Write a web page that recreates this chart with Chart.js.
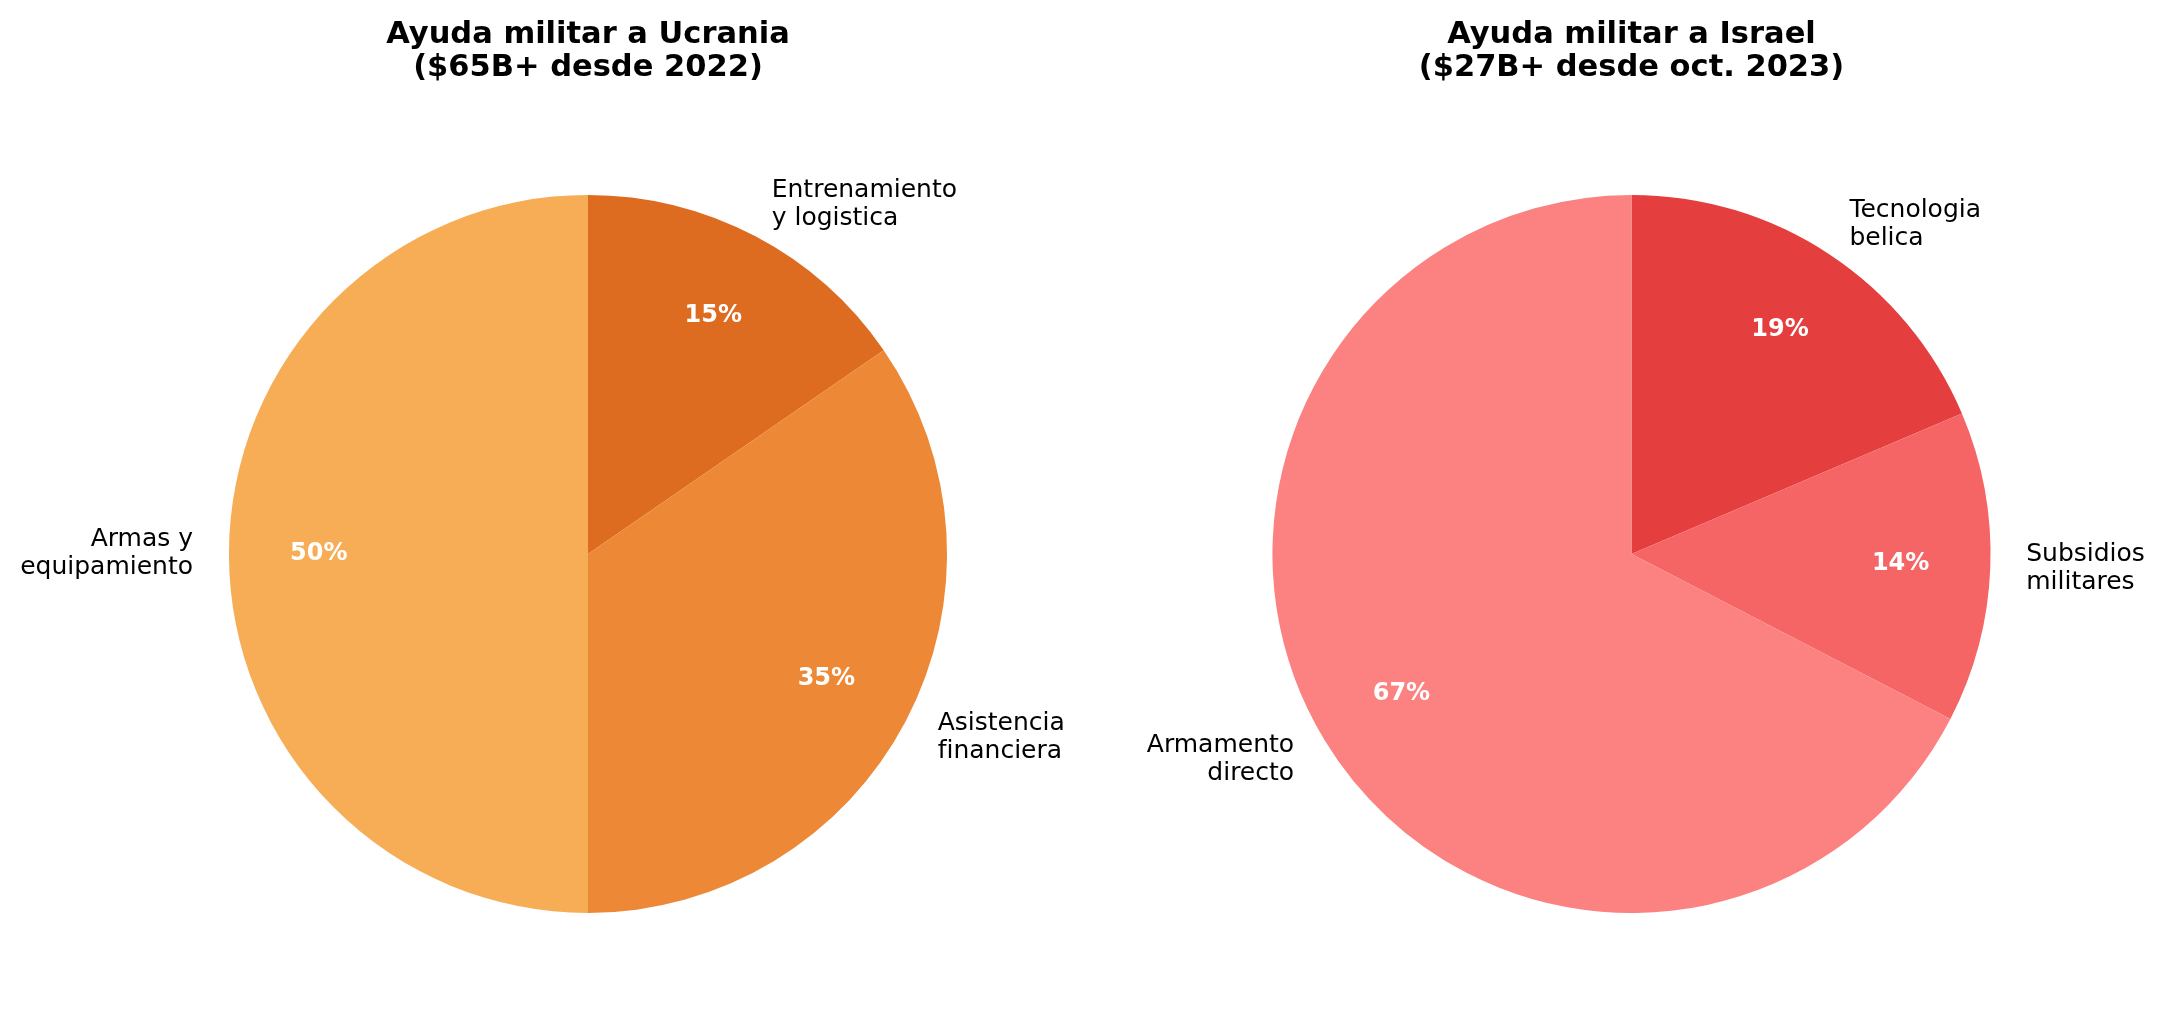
<!DOCTYPE html>
<html lang="es">
<head>
    <meta charset="UTF-8">
    <title>Ayuda militar</title>
    <script src="https://cdn.jsdelivr.net/npm/chart.js"></script>
    <style>
        html, body { margin: 0; padding: 0; background: #fff; }
        .wrap { display: flex; width: 2165px; height: 1023px; }
        .half { position: relative; height: 1023px; }
    </style>
</head>
<body>
<div class="wrap">
    <div class="half" style="width: 1082px;"><canvas id="ukraineChart"></canvas></div>
    <div class="half" style="width: 1083px;"><canvas id="israelChart"></canvas></div>
</div>

<script>
    // Ucrania: orden horario desde arriba
    const ukraineLabels = [['Entrenamiento', 'y logistica'], ['Asistencia', 'financiera'], ['Armas y', 'equipamiento']];
    const ukraineShares = [15.4, 34.6, 50];
    const ukraineColors = ['#DD6B20', '#ED8936', '#F6AD55'];
    const ukraineTitle = ['Ayuda militar a Ucrania', '($65B+ desde 2022)'];

    // Israel: orden horario desde arriba
    const israelLabels = [['Tecnologia', 'belica'], ['Subsidios', 'militares'], ['Armamento', 'directo']];
    const israelShares = [18.6, 14.0, 67.4];
    const israelColors = ['#E53E3E', '#F56565', '#FC8181'];
    const israelTitle = ['Ayuda militar a Israel', '($27B+ desde oct. 2023)'];

    const FONT = "'DejaVu Sans', sans-serif";

    const pieLabels = {
        id: 'pieLabels',
        afterDatasetsDraw(chart) {
            const ctx = chart.ctx;
            const meta = chart.getDatasetMeta(0);
            const data = chart.data.datasets[0].data;
            const total = data.reduce((a, b) => a + b, 0);
            meta.data.forEach((arc, i) => {
                const p = arc.getProps(['x', 'y', 'startAngle', 'endAngle', 'outerRadius'], true);
                const mid = (p.startAngle + p.endAngle) / 2;
                const c = Math.cos(mid), s = Math.sin(mid);

                // porcentaje dentro
                ctx.save();
                ctx.font = 'bold 24px ' + FONT;
                ctx.fillStyle = '#ffffff';
                ctx.textAlign = 'center';
                ctx.textBaseline = 'middle';
                ctx.fillText(Math.round(data[i] / total * 100) + '%', p.x + c * p.outerRadius * 0.75, p.y + s * p.outerRadius * 0.75);

                // etiqueta fuera
                const lines = chart.data.labels[i];
                const lh = 28;
                const lx = p.x + c * p.outerRadius * 1.1;
                const ly = p.y + s * p.outerRadius * 1.1;
                ctx.font = '25px ' + FONT;
                ctx.fillStyle = '#000000';
                ctx.textAlign = c >= 0 ? 'left' : 'right';
                lines.forEach((t, k) => ctx.fillText(t, lx, ly + (k - (lines.length - 1) / 2) * lh));
                ctx.restore();
            });
        }
    };

    function makePie(id, labels, values, colors, title, padLeft) {
        return new Chart(document.getElementById(id), {
            type: 'pie',
            data: { labels: labels, datasets: [{ data: values, backgroundColor: colors, borderWidth: 0, hoverOffset: 0 }] },
            options: {
                responsive: true,
                maintainAspectRatio: false,
                animation: false,
                rotation: 0,
                layout: { padding: { top: 0, bottom: 110, left: padLeft, right: 0 } },
                plugins: {
                    legend: { display: false },
                    tooltip: { enabled: false },
                    title: {
                        display: true,
                        text: title,
                        color: '#000000',
                        font: { family: FONT, size: 30.5, weight: 'bold', lineHeight: 1.08 },
                        padding: { top: 19, bottom: 110 }
                    }
                }
            },
            plugins: [pieLabels]
        });
    }

    document.addEventListener('DOMContentLoaded', () => {
        makePie('ukraineChart', ukraineLabels, ukraineShares, ukraineColors, ukraineTitle, 94);
        makePie('israelChart', israelLabels, israelShares, israelColors, israelTitle, 16);
    });
</script>
</body>
</html>
